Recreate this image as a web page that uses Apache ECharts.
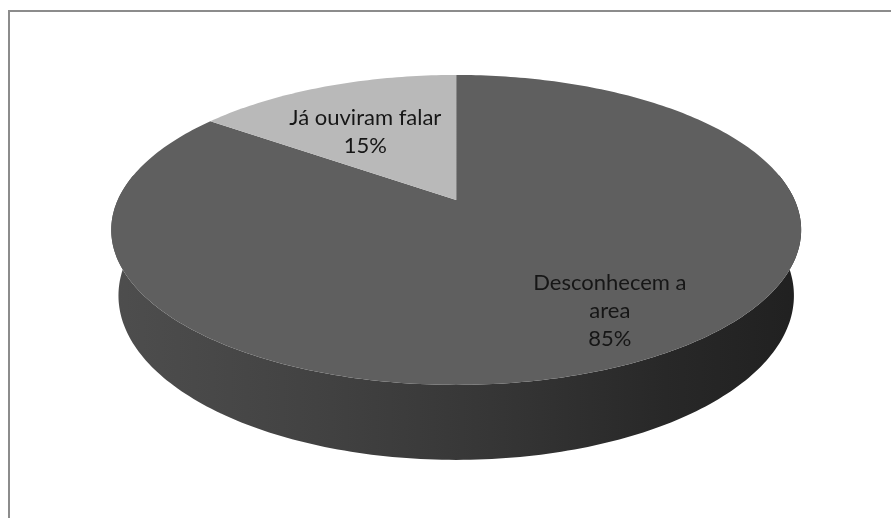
<!DOCTYPE html>
<html>
<head>
<meta charset="utf-8">
<title>Conhecimento da área</title>
<script src="https://cdn.jsdelivr.net/npm/echarts@6/dist/echarts.min.js"></script>
<style>
  html, body { margin: 0; padding: 0; background: #ffffff; }
  #chart { width: 891px; height: 518px; }
</style>
</head>
<body>
<div id="chart"></div>
<script>
// Slice names (as displayed, with their line breaks) and their shares in percent
const categories = ['Desconhecem a\narea', 'Já ouviram falar'];
const shares = [85, 15];

// Face colours of each slice's top
const topColors = ['#5f5f5f', '#b9b9b9'];

const total = shares.reduce((a, b) => a + b, 0);
const starts = [];
shares.reduce((acc, v) => { starts.push(acc); return acc + v; }, 0);

// Where each label sits inside its slice: fraction of the radius and a small turn (degrees)
const labelPlacement = [
  { r: 0.76, turn: -4.5 },
  { r: 0.58, turn: -3.5 }
];

const DEG = Math.PI / 180;

// Perspective camera looking down at a flat cylinder of radius 1
function makeProjector(W, H) {
  const cx = W * 0.512, cy = H * 0.386;
  const alpha = 26.15 * DEG;
  const L = 4.639;
  const f = 1570 * (W / 891);
  const s = Math.sin(alpha), c = Math.cos(alpha);
  return function (X, Y, Z) {
    const d = L - (Y * s + Z * c);
    const vp = Y * c - Z * s;
    return [cx + f * X / d, cy - f * vp / d];
  };
}
const thickness = 0.2167;

function arc(project, t0, t1, y) {
  const n = Math.max(6, Math.ceil((t1 - t0) / DEG));
  const pts = [];
  for (let i = 0; i <= n; i++) {
    const t = t0 + (t1 - t0) * i / n;
    pts.push(project(Math.sin(t), y, -Math.cos(t)));
  }
  return pts;
}

const chart = echarts.init(document.getElementById('chart'), null, { renderer: 'canvas' });

const option = {
  backgroundColor: '#ffffff',
  animation: false,
  graphic: [{
    type: 'polyline',
    shape: { points: [[9, 530], [9, 11], [900, 11]] },
    style: { stroke: '#8c8c8c', lineWidth: 2, fill: null },
    silent: true
  }],
  series: [{
    type: 'custom',
    coordinateSystem: 'none',
    silent: true,
    data: shares.map((v, i) => [v, starts[i]]),
    renderItem: function (params, api) {
      const W = api.getWidth(), H = api.getHeight();
      const project = makeProjector(W, H);
      const i = params.dataIndex;
      const value = api.value(0);
      const start = api.value(1);
      const t0 = start / total * 2 * Math.PI;
      const t1 = (start + value) / total * 2 * Math.PI;
      const children = [];

      // top face
      const topPts = [project(0, 0, 0)].concat(arc(project, t0, t1, 0));
      children.push({
        type: 'polygon',
        shape: { points: topPts },
        style: { fill: topColors[i] },
        z2: 10
      });

      // outer rim, only the part turned towards the viewer
      const r0 = Math.max(t0, 80 * DEG), r1 = Math.min(t1, 280 * DEG);
      if (r1 > r0) {
        const upper = arc(project, r0, r1, 0);
        const lower = arc(project, r0, r1, -thickness).reverse();
        const left = project(-1.03, 0, 0)[0], right = project(1.03, 0, 0)[0];
        children.push({
          type: 'polygon',
          shape: { points: upper.concat(lower) },
          style: {
            fill: new echarts.graphic.LinearGradient(left, 0, right, 0, [
              { offset: 0, color: '#4e4e4e' },
              { offset: 0.3, color: '#424242' },
              { offset: 0.55, color: '#363636' },
              { offset: 0.8, color: '#282828' },
              { offset: 1, color: '#202020' }
            ], true)
          },
          z2: 1
        });
      }

      // label: name and percentage
      const p = labelPlacement[i];
      const tm = (t0 + t1) / 2 + p.turn * DEG;
      const pos = project(p.r * Math.sin(tm), 0, -p.r * Math.cos(tm));
      const pct = Math.round(value / total * 100) + '%';
      children.push({
        type: 'text',
        x: pos[0],
        y: pos[1],
        style: {
          text: categories[i] + '\n' + pct,
          fill: '#161616',
          fontFamily: 'Lato',
          fontSize: 22,
          lineHeight: 28,
          align: 'center',
          verticalAlign: 'middle'
        },
        z2: 20
      });

      return { type: 'group', children: children };
    }
  }]
};

chart.setOption(option);
</script>
</body>
</html>
